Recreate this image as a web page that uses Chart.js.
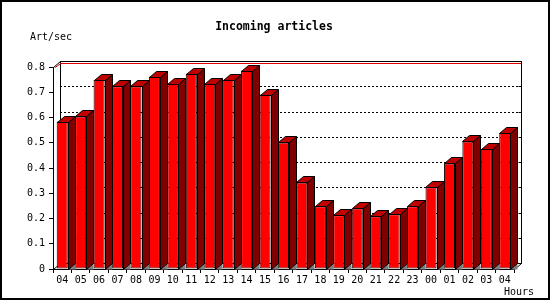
<!DOCTYPE html>
<html>
<head>
<meta charset="utf-8">
<script src="https://cdn.jsdelivr.net/npm/chart.js@4"></script>
<style>
html,body{margin:0;padding:0;background:#fff;}
canvas{display:block;}
</style>
</head>
<body>
<canvas id="c" width="550" height="300"></canvas>
<script>
// ---- data ----
const hours = ["04","05","06","07","08","09","10","11","12","13","14","15","16","17","18","19","20","21","22","23","00","01","02","03","04"];
const artPerSec = [0.584,0.604,0.750,0.724,0.724,0.762,0.734,0.774,0.734,0.750,0.786,0.691,0.501,0.343,0.249,0.213,0.241,0.209,0.217,0.249,0.324,0.418,0.505,0.476,0.539];
const yTickLabels = ["0","0.1","0.2","0.3","0.4","0.5","0.6","0.7","0.8"];
const chartTitle = "Incoming articles";
const yAxisTitle = "Art/sec";
const xAxisTitle = "Hours";

const DX = 7, DY = 6;
const MONO = "'DejaVu Sans Mono', 'Liberation Mono', monospace";

const threeD = {
  id: 'threeD',
  beforeDatasetsDraw(chart) {
    const ctx = chart.ctx, ca = chart.chartArea, ys = chart.scales.y;
    ctx.save();
    // back-plane dotted grid lines
    ctx.strokeStyle = '#000';
    ctx.lineWidth = 1;
    ctx.setLineDash([2, 2]);
    for (let i = 1; i < yTickLabels.length - 1; i++) {
      const py = Math.round(ys.getPixelForValue(parseFloat(yTickLabels[i])) - DY) + 0.5;
      ctx.beginPath();
      ctx.moveTo(ca.left + DX, py);
      ctx.lineTo(ca.right + DX, py);
      ctx.stroke();
    }
    ctx.setLineDash([]);
    // back frame
    const bl = Math.round(ca.left + DX) + 0.5, br = Math.round(ca.right + DX) + 0.5;
    const bt = Math.round(ca.top - DY) + 0.5, bb = Math.round(ca.bottom - DY) + 0.5;
    ctx.strokeRect(bl, bt, br - bl, bb - bt);
    // right back ticks
    for (let i = 1; i < yTickLabels.length - 1; i++) {
      const py = Math.round(ys.getPixelForValue(parseFloat(yTickLabels[i])) - DY) + 0.5;
      ctx.beginPath();
      ctx.moveTo(br - 3, py);
      ctx.lineTo(br, py);
      ctx.stroke();
    }
    // diagonals
    ctx.beginPath();
    ctx.moveTo(ca.left + 0.5, ca.top + 0.5); ctx.lineTo(bl, bt);
    ctx.moveTo(ca.right + 0.5, ca.bottom + 0.5); ctx.lineTo(br, bb);
    ctx.moveTo(ca.left + 0.5, ca.bottom + 0.5); ctx.lineTo(bl, bb);
    ctx.stroke();
    // red line
    ctx.strokeStyle = '#e00000';
    ctx.beginPath();
    ctx.moveTo(ca.left + 2, ca.top + 0.5);
    ctx.lineTo(bl + 0.5, bt + 2);
    ctx.lineTo(br - 0.5, bt + 2);
    ctx.stroke();
    ctx.restore();
  },
  afterDatasetsDraw(chart) {
    const ctx = chart.ctx;
    const meta = chart.getDatasetMeta(0);
    ctx.save();
    ctx.lineWidth = 1;
    ctx.strokeStyle = '#000';
    meta.data.forEach((bar) => {
      const p = bar.getProps(['x', 'y', 'base', 'width'], true);
      const l = Math.round(p.x - p.width / 2) + 0.5;
      const r = Math.round(p.x + p.width / 2) + 0.5;
      const t = Math.round(p.y) + 0.5;
      const b = Math.round(p.base) + 0.5;
      // floor triangle
      ctx.fillStyle = '#808080';
      ctx.beginPath();
      ctx.moveTo(r, b); ctx.lineTo(r + DX, b - DY); ctx.lineTo(r + DX, b); ctx.closePath();
      ctx.fill();
      // side face
      ctx.fillStyle = '#800000';
      ctx.beginPath();
      ctx.moveTo(r, t); ctx.lineTo(r + DX, t - DY); ctx.lineTo(r + DX, b - DY); ctx.lineTo(r, b); ctx.closePath();
      ctx.fill(); ctx.stroke();
      // top face
      ctx.fillStyle = '#c00000';
      ctx.beginPath();
      ctx.moveTo(l, t); ctx.lineTo(l + DX, t - DY); ctx.lineTo(r + DX, t - DY); ctx.lineTo(r, t); ctx.closePath();
      ctx.fill(); ctx.stroke();
    });
    ctx.restore();
  },
  afterDraw(chart) {
    const ctx = chart.ctx;
    ctx.save();
    ctx.fillStyle = '#000';
    ctx.textBaseline = 'middle';
    ctx.font = 'bold 11.5px ' + MONO;
    ctx.textAlign = 'center';
    ctx.fillText(chartTitle, 274, 27.5);
    ctx.font = '10px ' + MONO;
    ctx.textAlign = 'left';
    ctx.fillText(yAxisTitle, 30, 37.5);
    ctx.fillText(xAxisTitle, 504, 292);
    // outer frame
    ctx.strokeStyle = '#000';
    ctx.lineWidth = 2;
    ctx.strokeRect(1, 1, 548, 298);
    ctx.restore();
  }
};

Chart.defaults.font.family = MONO;
Chart.defaults.font.size = 10;
Chart.defaults.color = '#000';

new Chart(document.getElementById('c'), {
  type: 'bar',
  data: {
    labels: hours,
    datasets: [{
      data: artPerSec,
      backgroundColor: '#ff0000',
      borderColor: '#000',
      borderWidth: 1,
      borderSkipped: false,
      categoryPercentage: 1.0,
      barPercentage: 0.6
    }]
  },
  options: {
    responsive: false,
    animation: false,
    devicePixelRatio: 1,
    layout: { padding: { left: 0, top: 67, right: 36, bottom: 0 } },
    plugins: { legend: { display: false }, title: { display: false }, tooltip: { enabled: false } },
    scales: {
      x: {
        grid: { display: true, drawOnChartArea: false, drawTicks: true, tickLength: 4, color: '#000', offset: true },
        border: { display: true, color: '#000' },
        ticks: { padding: 1, maxRotation: 0, autoSkip: false, font: { size: 10, family: MONO } },
        afterFit(scale) { scale.height = 31; }
      },
      y: {
        min: 0, max: 0.8,
        grid: { display: true, drawOnChartArea: false, drawTicks: true, tickLength: 4, color: '#000' },
        border: { display: true, color: '#000' },
        ticks: {
          stepSize: 0.1, padding: 4, font: { size: 10, family: MONO },
          callback: (v, i) => yTickLabels[i]
        },
        afterFit(scale) { scale.width = 53; }
      }
    }
  },
  plugins: [threeD]
});
</script>
</body>
</html>
